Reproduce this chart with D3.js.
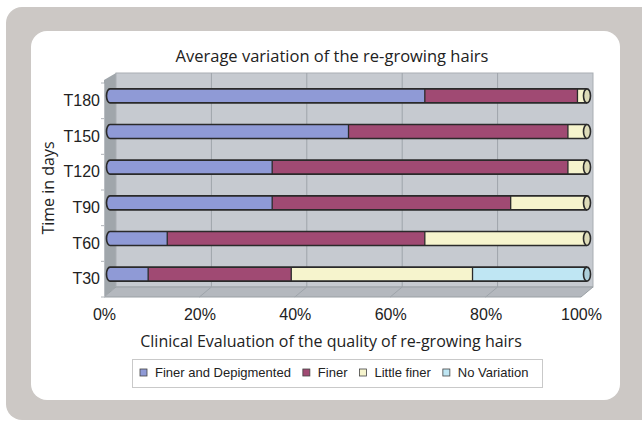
<!DOCTYPE html>
<html>
<head>
<meta charset="utf-8">
<script src="https://cdn.jsdelivr.net/npm/d3@7"></script>
<style>
  body { margin: 0; background: #fff; }
  svg { display: block; }
</style>
</head>
<body>
<svg id="chart" width="642" height="421"></svg>
<script>
// categories, top to bottom
var categories = ["T180", "T150", "T120", "T90", "T60", "T30"];
var seriesNames = ["Finer and Depigmented", "Finer", "Little finer", "No Variation"];
// percent of samples per class, one entry per category
var finerDepigmented = [66, 50, 34, 34, 12, 8];
var finer            = [32, 46, 62, 50, 54, 30];
var littleFiner      = [2, 4, 4, 16, 34, 38];
var noVariation      = [0, 0, 0, 0, 0, 24];
var xTicks = [0, 20, 40, 60, 80, 100];

var colors = ["#8f9ad6", "#a04a73", "#f6f4cd", "#bfe6f3"];

var svg = d3.select("#chart");

// frame and card
svg.append("rect")
    .attr("x", 6).attr("y", 7)
    .attr("width", 680).attr("height", 413)
    .attr("rx", 16).attr("ry", 16)
    .style("fill", "#ccc8c5");
svg.append("rect")
    .attr("x", 31).attr("y", 31)
    .attr("width", 589).attr("height", 369)
    .attr("rx", 16).attr("ry", 16)
    .style("fill", "#ffffff");

// build table for stack
var table = categories.map(function (c, i) {
    return {
        cat: c,
        s0: finerDepigmented[i],
        s1: finer[i],
        s2: littleFiner[i],
        s3: noVariation[i]
    };
});
var stacked = d3.stack().keys(["s0", "s1", "s2", "s3"])(table);

// front-plane scales; depth is a fixed offset
var DX = 12, DY = -10;
var x = d3.scaleLinear().domain([0, 100]).range([104, 581]);
var y = d3.scaleBand().domain(categories).range([83, 297]);
var yTop = y.range()[0], yBot = y.range()[1];

// walls
var wall = svg.append("g");
// side wall
wall.append("path")
    .attr("d", "M" + x(0) + "," + (yTop - 3) +
               "L" + (x(0) + DX) + "," + (yTop + DY) +
               "L" + (x(0) + DX) + "," + (yBot + DY) +
               "L" + x(0) + "," + yBot + "Z")
    .style("fill", "#a0a6ab");
// back wall
wall.append("rect")
    .attr("x", x(0) + DX).attr("y", yTop + DY)
    .attr("width", x(100) - x(0)).attr("height", yBot - yTop)
    .style("fill", "#c6cad0")
    .style("stroke", "#a9aeb3")
    .style("stroke-width", 1);
// floor
wall.append("path")
    .attr("d", "M" + x(0) + "," + yBot +
               "L" + (x(0) + DX) + "," + (yBot + DY) +
               "L" + (x(100) + DX) + "," + (yBot + DY) +
               "L" + x(100) + "," + yBot + "Z")
    .style("fill", "#b4b8be")
    .style("stroke", "#9aa0a5")
    .style("stroke-width", 1);

// gridlines on back wall and floor
xTicks.slice(1, -1).forEach(function (t) {
    wall.append("line")
        .attr("x1", x(t) + DX).attr("x2", x(t) + DX)
        .attr("y1", yTop + DY).attr("y2", yBot + DY)
        .style("stroke", "#9ea4aa").style("stroke-width", 1);
    wall.append("line")
        .attr("x1", x(t)).attr("x2", x(t) + DX)
        .attr("y1", yBot).attr("y2", yBot + DY)
        .style("stroke", "#9ea4aa").style("stroke-width", 1);
});

// y axis (front edge of side wall)
var yAxis = d3.axisLeft(y).tickSize(0).tickPadding(4);
var gy = svg.append("g")
    .attr("transform", "translate(" + x(0) + ",0)")
    .call(yAxis);
gy.select(".domain").style("stroke", "#b9bdc2");
gy.selectAll("text")
    .style("font-family", "'Liberation Sans', Arial, sans-serif")
    .style("font-size", "16px")
    .style("fill", "#222");
// boundary ticks
categories.concat([null]).forEach(function (c, i) {
    var yy = yTop + i * y.step();
    gy.append("line")
        .attr("x1", -3).attr("x2", 0)
        .attr("y1", yy).attr("y2", yy)
        .style("stroke", "#b0b4b9");
});

// x axis labels
var xAxis = d3.axisBottom(x).tickValues(xTicks).tickSize(0).tickPadding(12)
    .tickFormat(function (d) { return d + "%"; });
var gx = svg.append("g")
    .attr("transform", "translate(0," + yBot + ")")
    .call(xAxis);
gx.select(".domain").remove();
gx.selectAll("text")
    .style("font-family", "'Liberation Sans', Arial, sans-serif")
    .style("font-size", "16px")
    .style("fill", "#222");

// cylinders at mid depth
var barH = 14, capRx = 3.5;
var bx = function (v) { return x(v) + DX / 2; };
var bars = svg.append("g");
table.forEach(function (row, i) {
    var cy = y(row.cat) + y.bandwidth() / 2 + DY / 2;
    var t = cy - barH / 2, b = cy + barH / 2;
    var segs = stacked.map(function (s, k) {
        return { k: k, x0: s[i][0], x1: s[i][1] };
    }).filter(function (s) { return s.x1 > s.x0; });
    var g = bars.append("g");
    // left cap
    g.append("path")
        .attr("d", "M" + bx(0) + "," + t + "A" + capRx + "," + (barH / 2) +
                   " 0 0 0 " + bx(0) + "," + b + "Z")
        .style("fill", colors[segs[0].k]);
    g.selectAll("rect.seg").data(segs).enter().append("rect")
        .attr("class", "seg")
        .attr("x", function (d) { return bx(d.x0); })
        .attr("y", t)
        .attr("width", function (d) { return bx(d.x1) - bx(d.x0); })
        .attr("height", barH)
        .style("fill", function (d) { return colors[d.k]; });
    // separators
    g.selectAll("line.sep").data(segs.slice(0, -1)).enter().append("line")
        .attr("class", "sep")
        .attr("x1", function (d) { return bx(d.x1); })
        .attr("x2", function (d) { return bx(d.x1); })
        .attr("y1", t).attr("y2", b)
        .style("stroke", "#2a2a2a").style("stroke-width", 1.3);
    // outline
    g.append("path")
        .attr("d", "M" + bx(100) + "," + t + "L" + bx(0) + "," + t +
                   "A" + capRx + "," + (barH / 2) + " 0 0 0 " + bx(0) + "," + b +
                   "L" + bx(100) + "," + b)
        .style("fill", "none")
        .style("stroke", "#2a2a2a").style("stroke-width", 1.6);
    // right cap
    g.append("ellipse")
        .attr("cx", bx(100)).attr("cy", cy)
        .attr("rx", capRx).attr("ry", barH / 2)
        .style("fill", d3.color(colors[segs[segs.length - 1].k]).darker(0.3))
        .style("stroke", "#2a2a2a").style("stroke-width", 1.6);
});

// titles
var titleFont = "'Open Sans', sans-serif";
svg.append("text")
    .attr("x", 332).attr("y", 62)
    .attr("text-anchor", "middle")
    .style("font-family", titleFont)
    .style("font-size", "16.5px")
    .style("fill", "#222")
    .text("Average variation of the re-growing hairs");
svg.append("text")
    .attr("x", 331).attr("y", 347)
    .attr("text-anchor", "middle")
    .style("font-family", titleFont)
    .style("font-size", "16px")
    .style("fill", "#222")
    .text("Clinical Evaluation of the quality of re-growing hairs");
svg.append("text")
    .attr("transform", "translate(54,188) rotate(-90)")
    .attr("text-anchor", "middle")
    .style("font-family", titleFont)
    .style("font-size", "16px")
    .style("fill", "#222")
    .text("Time in days");

// legend
var legend = svg.append("g");
legend.append("rect")
    .attr("x", 132.5).attr("y", 359.5)
    .attr("width", 410).attr("height", 28)
    .style("fill", "#fff")
    .style("stroke", "#c9c9c9");
var lx = 140;
seriesNames.forEach(function (name, k) {
    legend.append("rect")
        .attr("x", lx).attr("y", 369)
        .attr("width", 7).attr("height", 7)
        .style("fill", colors[k])
        .style("stroke", "#444").style("stroke-width", 0.8);
    var txt = legend.append("text")
        .attr("x", lx + 15).attr("y", 377)
        .style("font-family", "'Liberation Sans', Arial, sans-serif")
        .style("font-size", "13px")
        .style("fill", "#222")
        .text(name);
    lx += 15 + txt.node().getComputedTextLength() + 12;
});
</script>
</body>
</html>
